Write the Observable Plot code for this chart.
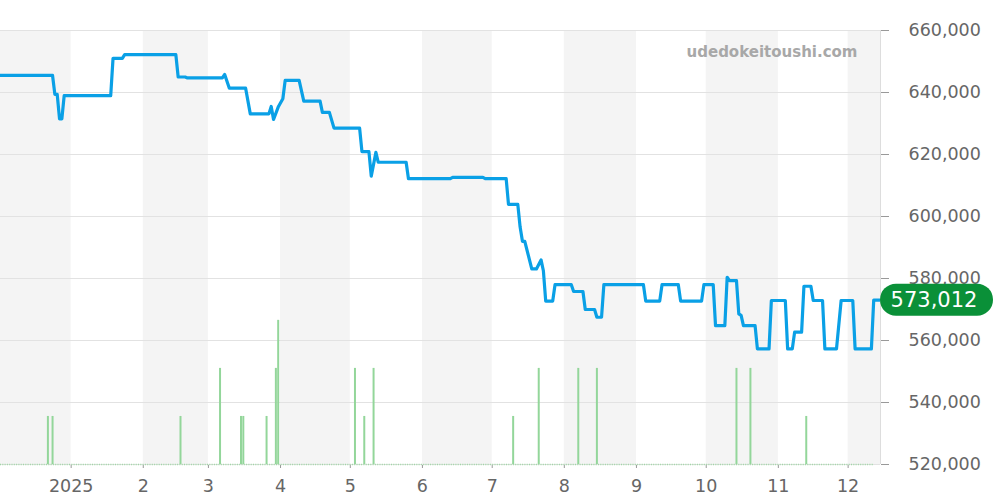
<!DOCTYPE html>
<html><head><meta charset="utf-8">
<script src="https://cdn.jsdelivr.net/npm/d3@7"></script>
<script src="https://cdn.jsdelivr.net/npm/@observablehq/plot@0.6"></script>
<style>
body{margin:0;background:#fff;}
#chart{position:relative;width:1000px;height:500px;}
</style>
</head><body><div id="chart"></div>
<script>
// ---- data ----
const priceDates = ["2024-12-01","2024-12-24","2024-12-25","2024-12-26","2024-12-27","2024-12-28","2024-12-29",
"2025-01-18","2025-01-19","2025-01-23","2025-01-24","2025-02-15","2025-02-16","2025-02-19","2025-02-20",
"2025-03-07","2025-03-08","2025-03-10","2025-03-17","2025-03-19","2025-03-27","2025-03-28","2025-03-29","2025-03-31",
"2025-04-02","2025-04-03","2025-04-09","2025-04-11","2025-04-18","2025-04-19","2025-04-22","2025-04-24",
"2025-05-05","2025-05-06","2025-05-09","2025-05-10","2025-05-12","2025-05-13","2025-05-25","2025-05-26",
"2025-06-13","2025-06-14","2025-06-27","2025-06-28","2025-07-07","2025-07-08","2025-07-12","2025-07-13","2025-07-14",
"2025-07-15","2025-07-18","2025-07-20","2025-07-22","2025-07-23","2025-07-24","2025-07-27","2025-07-28",
"2025-08-04","2025-08-05","2025-08-09","2025-08-10","2025-08-14","2025-08-15","2025-08-17","2025-08-18",
"2025-09-04","2025-09-05","2025-09-11","2025-09-12","2025-09-19","2025-09-20","2025-09-29","2025-09-30",
"2025-10-04","2025-10-05","2025-10-09","2025-10-10","2025-10-11","2025-10-14","2025-10-15","2025-10-16","2025-10-17",
"2025-10-22","2025-10-23","2025-10-28","2025-10-29","2025-11-04","2025-11-05","2025-11-07","2025-11-08",
"2025-11-11","2025-11-12","2025-11-15","2025-11-16","2025-11-20","2025-11-21","2025-11-26","2025-11-28",
"2025-12-03","2025-12-04","2025-12-11","2025-12-12","2025-12-15"];
const priceValues = [645500,645500,639400,639400,631500,631500,639000,
639000,651000,651000,652200,652200,645000,645000,644700,
644700,645800,641400,641400,633100,633100,635500,631300,635300,
638000,643900,643900,637200,637200,633600,633600,628500,
628500,620900,620900,613000,620700,617500,617500,612200,
612200,612600,612600,612200,612200,603900,603900,596600,592000,
592000,583100,583100,586000,582500,572700,572700,578000,
578000,575800,575800,570000,570000,567500,567500,578000,
578000,572700,572700,578000,578000,572700,572700,578000,
578000,564800,564800,580400,579300,579300,568600,568100,564800,
564800,557300,557300,572900,572900,557300,557300,562700,
562700,577500,577500,572900,572900,557300,557300,572900,
572900,557300,557300,573012,573012];

const volumeDates = ["2024-12-22","2024-12-24","2025-02-17","2025-03-06","2025-03-15","2025-03-16","2025-03-26",
"2025-03-30","2025-03-31","2025-05-03","2025-05-07","2025-05-11","2025-07-10","2025-07-21","2025-08-07",
"2025-08-15","2025-10-14","2025-10-20","2025-11-13"];
const volumeCounts = [1,1,1,2,1,1,1,2,3,2,1,2,1,2,2,2,2,2,1];

const monthTickDates = ["2025-01-01","2025-02-01","2025-03-01","2025-04-01","2025-05-01","2025-06-01",
"2025-07-01","2025-08-01","2025-09-01","2025-10-01","2025-11-01","2025-12-01"];
const monthTickLabels = ["2025","2","3","4","5","6","7","8","9","10","11","12"];

const shadedStarts = ["2024-12-01","2025-02-01","2025-04-01","2025-06-01","2025-08-01","2025-10-01","2025-12-01"];
const shadedEnds   = ["2025-01-01","2025-03-01","2025-05-01","2025-07-01","2025-09-01","2025-11-01","2026-01-01"];

const yTicks = [520000,540000,560000,580000,600000,620000,640000,660000];
const lastPrice = 573012;
const watermark = "udedokeitoushi.com";

// ---- build tables ----
const price = priceDates.map((d,i)=>({date:new Date(d), value:priceValues[i]}));
const volUnit = 15500; // volume bar height unit in price-axis units
const volume = volumeDates.map((d,i)=>({date:new Date(d), count:volumeCounts[i]}));
const bands = shadedStarts.map((d,i)=>({x1:new Date(d), x2:new Date(shadedEnds[i])}));
const tickDates = monthTickDates.map(d=>new Date(d));
const tickLabelOf = new Map(tickDates.map((d,i)=>[+d, monthTickLabels[i]]));
const fmt = d3.format(",");

const xDomain = [new Date("2024-12-01T15:00Z"), new Date("2025-12-14T22:00Z")];
const baseline = [{y: 520000, x1: xDomain[0], x2: new Date("2025-12-12")}];

const chart = Plot.plot({
  width: 1000, height: 500,
  marginLeft: 0, marginRight: 120, marginTop: 30, marginBottom: 36,
  style: {fontFamily: "DejaVu Sans", fontSize: "17.5px", color: "#666", background: "#fff"},
  x: {type: "utc", domain: xDomain, ticks: tickDates, tickFormat: d => tickLabelOf.get(+d) ?? "",
      tickSize: 4, tickPadding: 11, label: null},
  y: {domain: [520000, 660000], axis: "right", ticks: yTicks, tickFormat: fmt,
      tickSize: 8, tickPadding: 20, label: null},
  marks: [
    Plot.rect(bands, {x1: "x1", x2: "x2", fill: "#f4f4f4", clip: true}),
    Plot.ruleY(yTicks, {stroke: "#e2e2e2", strokeWidth: 1}),
    Plot.ruleX([xDomain[1]], {stroke: "#dddddd"}),
    Plot.ruleY(baseline, {y: "y", x1: "x1", x2: "x2", stroke: "#9fd8a5", strokeWidth: 1.5, strokeDasharray: "1,1.3"}),
    Plot.ruleX(volume, {x: "date", y1: () => 520000, y2: d => 520000 + d.count * volUnit, stroke: "#93d69a", strokeWidth: 2}),
    Plot.line(price, {x: "date", y: "value", stroke: "#0aa0e6", strokeWidth: 3.2, strokeLinejoin: "round", clip: true}),
    Plot.text([watermark], {frameAnchor: "top-right", dx: -23, dy: 22, textAnchor: "end", lineAnchor: "middle",
      fill: "#a8a8a8", fontWeight: "bold", fontSize: 15})
  ]
});

// tick line colour
d3.select(chart).selectAll("g[aria-label$='axis'] path, g[aria-label$='tick'] path").attr("stroke", "#999");

// last-price pill using the chart's own y scale
const yPos = chart.scale("y").apply(lastPrice);
const svg = d3.select(chart);
const g = svg.append("g");
g.append("rect").attr("x", 880).attr("y", yPos - 16).attr("width", 113).attr("height", 32)
  .attr("rx", 16).attr("fill", "#0a9038");
g.append("text").attr("x", 934).attr("y", yPos).attr("text-anchor", "middle")
  .attr("dominant-baseline", "central").attr("fill", "#fff")
  .style("font-family", "DejaVu Sans").style("font-size", "21px").text(fmt(lastPrice));

document.getElementById("chart").appendChild(chart);
</script>
</body></html>
